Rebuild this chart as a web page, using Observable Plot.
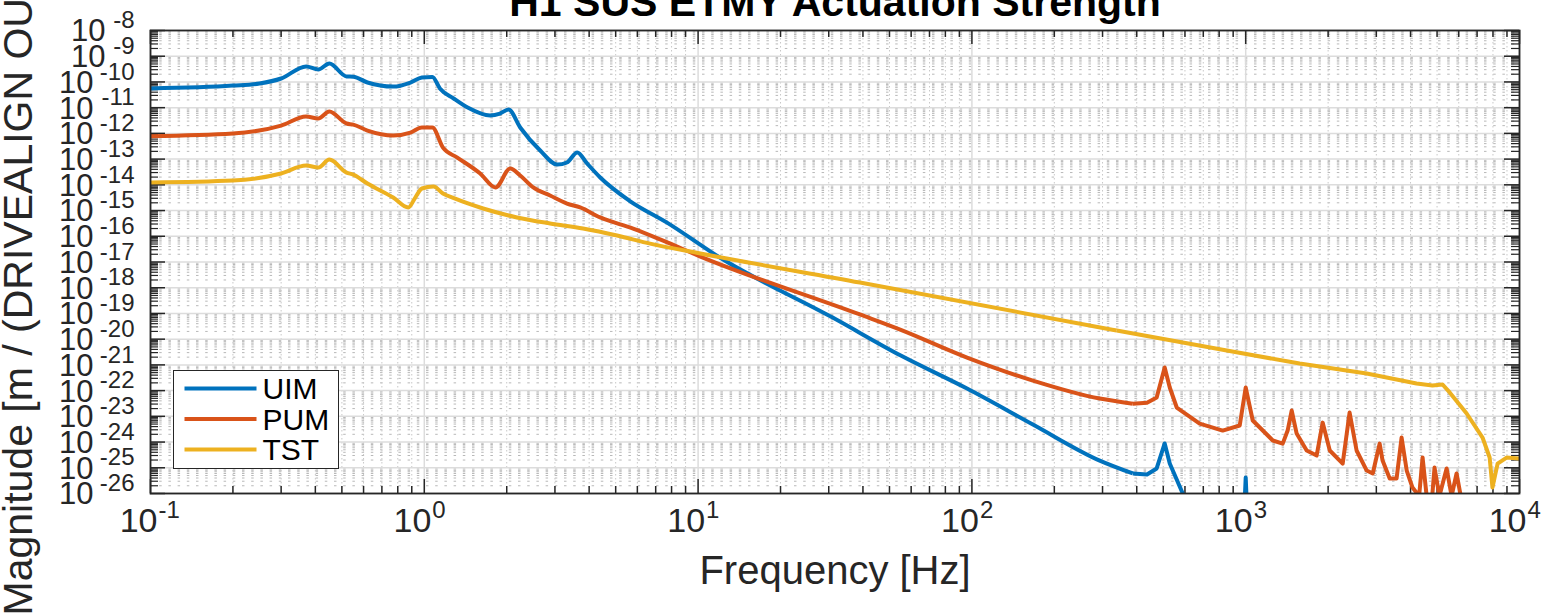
<!DOCTYPE html>
<html><head><meta charset="utf-8">
<script src="https://cdn.jsdelivr.net/npm/d3@7"></script>
<script src="https://cdn.jsdelivr.net/npm/@observablehq/plot@0.6"></script>
<style>
html,body{margin:0;padding:0;background:#fff;}
#chart{position:relative;width:1547px;height:614px;overflow:hidden;font-family:"Liberation Sans",Arial,Helvetica,sans-serif;}
#legend{position:absolute;left:173px;top:370px;width:166px;height:99px;box-sizing:border-box;border:1.5px solid #262626;background:#fff;}
#legend svg{display:block;}
</style></head><body><div id="chart"></div>
<script>
const seriesNames = ["UIM", "PUM", "TST"];
const seriesColors = ["#0072BD", "#D95319", "#EDB120"];

const uimFreq = [0.1, 0.2, 0.25, 0.3, 0.37, 0.41, 0.45, 0.52, 0.55, 0.62, 0.77, 0.89, 0.98, 1.07, 1.14, 1.28, 1.44, 1.74, 1.89, 2.03, 2.24, 2.65, 3.06, 3.32, 3.62, 3.93, 4.39, 5.6, 7.7, 12, 31, 55, 96, 167, 293, 387, 436, 473, 506, 528, 589, 650, 985, 1000, 1015, 2000];
const uimMag = [5.6e-11, 7.2e-11, 8.7e-11, 1.36e-10, 4.0e-10, 3.05e-10, 5.2e-10, 1.63e-10, 1.6e-10, 9.5e-11, 6.6e-11, 9.5e-11, 1.49e-10, 1.57e-10, 5.6e-11, 2.27e-11, 1.01e-11, 4.96e-12, 5.9e-12, 8.5e-12, 1.7e-12, 2.16e-13, 6.16e-14, 7.4e-14, 1.82e-13, 6.8e-14, 1.93e-14, 2.45e-15, 3.4e-16, 1.49e-17, 6.9e-20, 2.3e-21, 1.2e-22, 4.8e-24, 1.9e-25, 6.0e-26, 5.5e-26, 9.4e-26, 8.8e-25, 1.46e-25, 1e-26, 3e-27, 1e-27, 4.2e-26, 1e-27, 1e-29];

const pumFreq = [0.1, 0.2, 0.3, 0.37, 0.41, 0.45, 0.52, 0.55, 0.62, 0.77, 0.89, 0.98, 1.07, 1.17, 1.32, 1.6, 1.82, 2.06, 2.24, 2.5, 2.88, 3.32, 3.71, 4.39, 5.79, 7.45, 10.2, 39, 55, 96, 167, 293, 387, 436, 473, 506, 528, 560, 679, 824, 951, 1000, 1061, 1256, 1365, 1423, 1472, 1535, 1670, 1816, 1910, 2028, 2261, 2396, 2541, 2767, 2911, 3084, 3162, 3357, 3557, 3710, 3873, 4066, 4300, 4426, 4580, 4800, 4893, 5100, 5417, 5650, 5890, 6150, 10000];
const pumMag = [7.8e-13, 9.9e-13, 2.0e-12, 4.5e-12, 3.8e-12, 7.1e-12, 2.42e-12, 2.2e-12, 1.29e-12, 8.3e-13, 1.08e-12, 1.7e-12, 1.7e-12, 2.8e-13, 1.15e-13, 2.75e-14, 7.9e-15, 4.3e-14, 2.3e-14, 7.9e-15, 3.85e-15, 1.88e-15, 1.32e-15, 5.4e-16, 2.0e-16, 6.8e-17, 1.63e-17, 9.1e-20, 2.3e-20, 1.93e-21, 2.46e-22, 4.9e-23, 3.1e-23, 3.4e-23, 5.4e-23, 7.9e-22, 1.32e-22, 2.2e-23, 5.2e-24, 2.8e-24, 4.4e-24, 1.32e-22, 6.9e-24, 1.15e-24, 8.7e-25, 2.8e-24, 1.68e-23, 2.14e-24, 4.7e-25, 3.0e-25, 5.7e-24, 4.7e-25, 1.46e-25, 1.4e-23, 4.7e-25, 7.8e-26, 6.0e-26, 8.7e-25, 1.9e-25, 3.8e-26, 3.8e-26, 1.5e-24, 7.8e-26, 1.7e-26, 8e-27, 2.5e-25, 8e-27, 8e-27, 1.02e-25, 8e-27, 9.4e-26, 8e-27, 6.0e-26, 5e-27, 1e-28];

const tstFreq = [0.1, 0.2, 0.3, 0.37, 0.41, 0.45, 0.52, 0.55, 0.62, 0.77, 0.874, 0.927, 0.98, 1.08, 1.17, 1.29, 1.64, 2.18, 2.88, 3.8, 5.06, 6.68, 10.2, 39, 338, 853, 1574, 2767, 4207, 4808, 5236, 5559, 6412, 7328, 7780, 7965, 8318, 8974, 10000];
const tstMag = [1.23e-14, 1.47e-14, 2.75e-14, 5.6e-14, 4.7e-14, 9.6e-14, 3.0e-14, 2.5e-14, 1.12e-14, 3.2e-15, 1.32e-15, 3.2e-15, 7.2e-15, 8.6e-15, 4.6e-15, 2.95e-15, 1.2e-15, 5.4e-16, 3.15e-16, 2.0e-16, 1.07e-16, 5.2e-17, 2.14e-17, 1.59e-18, 2.17e-20, 3.6e-21, 1.13e-21, 4.6e-22, 1.88e-22, 1.58e-22, 1.73e-22, 8.5e-23, 1.29e-23, 1.5e-24, 2.5e-25, 1.7e-26, 1.46e-25, 2.5e-25, 2.3e-25];

const xTickValues = [0.1, 1, 10, 100, 1000, 10000];
const xTickExponents = ["-1", "0", "1", "2", "3", "4"];
const yTickValues = [1e-26, 1e-25, 1e-24, 1e-23, 1e-22, 1e-21, 1e-20, 1e-19, 1e-18, 1e-17, 1e-16, 1e-15, 1e-14, 1e-13, 1e-12, 1e-11, 1e-10, 1e-9, 1e-8];
const yTickExponents = ["-26", "-25", "-24", "-23", "-22", "-21", "-20", "-19", "-18", "-17", "-16", "-15", "-14", "-13", "-12", "-11", "-10", "-9", "-8"];

const titleText = "H1 SUS ETMY Actuation Strength";
const xLabelText = "Frequency [Hz]";
const yLabelText = "Magnitude [m / (DRIVEALIGN OUTPUT ct)]";

// ---- build tables ----
const rows = (fs, ms) => fs.map((f, i) => ({f, m: ms[i]}));
const series = [rows(uimFreq, uimMag), rows(pumFreq, pumMag), rows(tstFreq, tstMag)];
// smooth part (below the sharp high-frequency resonances) and sharp part
const splitFreq = 300;
const smoothPart = s => { const k = s.findIndex(d => d.f >= splitFreq); return s.slice(0, k + 1); };
const sharpPart = s => { const k = s.findIndex(d => d.f >= splitFreq); return s.slice(k); };

const minorOf = (majors) => majors.slice(0, -1).flatMap(v => [2,3,4,5,6,7,8,9].map(k => k * v));
const xMinor = minorOf(xTickValues);
const yMinor = minorOf(yTickValues);
const yTickRows = yTickValues.map((v, i) => ({v, e: yTickExponents[i]}));
const yShort = yTickRows.filter(d => d.e.length <= 2);
const yLong = yTickRows.filter(d => d.e.length > 2);
const xTickRows = xTickValues.map((v, i) => ({v, e: xTickExponents[i]}));

const W = 1547, H = 614, mL = 150, mR = 28, mT = 30, mB = 121;
const innerW = W - mL - mR, innerH = H - mT - mB;
const axisColor = "#262626";
const font = '"Liberation Sans", Arial, Helvetica, sans-serif';
const lw = 4;

const plot = Plot.plot({
  width: W, height: H,
  marginLeft: mL, marginRight: mR, marginTop: mT, marginBottom: mB,
  style: {fontFamily: font, background: "#fff", color: axisColor, overflow: "visible"},
  x: {type: "log", domain: [0.1, 1e4], axis: null},
  y: {type: "log", domain: [1e-26, 1e-8], axis: null},
  marks: [
    // grids
    Plot.ruleY(yMinor, {y: d => d, stroke: "#b8b8b8", strokeWidth: 1, strokeDasharray: "2.5,6.7"}),
    Plot.ruleX(xMinor, {x: d => d, stroke: "#c8c8c8", strokeWidth: 1, strokeDasharray: "1.5,2.5"}),
    Plot.ruleX(xTickValues, {x: d => d, stroke: "#dcdcdc", strokeWidth: 1.5}),
    Plot.ruleY(yTickValues, {y: d => d, stroke: "#dcdcdc", strokeWidth: 1.5}),
    // ticks (inward, all sides)
    Plot.tickX(xTickValues, {x: d => d, insetTop: innerH - 14, stroke: axisColor, strokeWidth: 1.5}),
    Plot.tickX(xTickValues, {x: d => d, insetBottom: innerH - 14, stroke: axisColor, strokeWidth: 1.5}),
    Plot.tickX(xMinor, {x: d => d, insetTop: innerH - 7, stroke: axisColor, strokeWidth: 1.5}),
    Plot.tickX(xMinor, {x: d => d, insetBottom: innerH - 7, stroke: axisColor, strokeWidth: 1.5}),
    Plot.tickY(yTickValues, {y: d => d, insetRight: innerW - 15, stroke: axisColor, strokeWidth: 1.5}),
    Plot.tickY(yTickValues, {y: d => d, insetLeft: innerW - 15, stroke: axisColor, strokeWidth: 1.5}),
    Plot.tickY(yMinor, {y: d => d, insetRight: innerW - 8, stroke: axisColor, strokeWidth: 1.2}),
    Plot.tickY(yMinor, {y: d => d, insetLeft: innerW - 8, stroke: axisColor, strokeWidth: 1.2}),
    // data
    ...series.flatMap((s, i) => [
      Plot.line(smoothPart(s), {x: "f", y: "m", stroke: seriesColors[i], strokeWidth: lw, curve: "monotone-x", strokeLinecap: "butt", clip: true}),
      Plot.line(sharpPart(s), {x: "f", y: "m", stroke: seriesColors[i], strokeWidth: lw, strokeLinecap: "butt", clip: true})
    ]),
    Plot.frame({stroke: axisColor, strokeWidth: 1.8}),
    // x tick labels
    Plot.text(xTickRows, {x: "v", frameAnchor: "bottom", text: () => "10", textAnchor: "end", dx: 7, dy: 38, fontSize: 34, fill: axisColor}),
    Plot.text(xTickRows, {x: "v", frameAnchor: "bottom", text: "e", textAnchor: "start", dx: 8, dy: 24, fontSize: 24, fill: axisColor}),
    // y tick labels
    Plot.text(yShort, {y: "v", frameAnchor: "left", text: () => "10", textAnchor: "end", dx: -45, dy: 1, fontSize: 31, fill: axisColor}),
    Plot.text(yLong, {y: "v", frameAnchor: "left", text: () => "10", textAnchor: "end", dx: -57, dy: 1, fontSize: 31, fill: axisColor}),
    Plot.text(yTickRows, {y: "v", frameAnchor: "left", text: "e", textAnchor: "end", dx: -16, dy: -10, fontSize: 24, fill: axisColor}),
    // title and axis labels
    Plot.text([titleText], {frameAnchor: "top", lineAnchor: "bottom", dy: -15, fontSize: 41, fontWeight: "bold", fill: "#000"}),
    Plot.text([xLabelText], {frameAnchor: "bottom", lineAnchor: "bottom", dy: 90, fontSize: 40, fill: axisColor}),
    Plot.text([yLabelText], {frameAnchor: "bottom-left", rotate: -90, textAnchor: "start", dx: -119, dy: 122, fontSize: 41, fill: axisColor})
  ]
});

const chart = document.getElementById("chart");
chart.appendChild(plot);

// legend box
const legend = document.createElement("div");
legend.id = "legend";
const ns = "http://www.w3.org/2000/svg";
const lsvg = document.createElementNS(ns, "svg");
lsvg.setAttribute("width", 163);
lsvg.setAttribute("height", 96);
seriesNames.forEach((name, i) => {
  const yy = 17.5 + i * 30.5;
  const ln = document.createElementNS(ns, "line");
  ln.setAttribute("x1", 10.5); ln.setAttribute("x2", 82.5);
  ln.setAttribute("y1", yy); ln.setAttribute("y2", yy);
  ln.setAttribute("stroke", seriesColors[i]); ln.setAttribute("stroke-width", lw);
  lsvg.appendChild(ln);
  const tx = document.createElementNS(ns, "text");
  tx.setAttribute("x", 88.5); tx.setAttribute("y", yy + 10.5);
  tx.setAttribute("font-size", 30); tx.setAttribute("font-family", font);
  tx.setAttribute("fill", "#000");
  tx.textContent = name;
  lsvg.appendChild(tx);
});
legend.appendChild(lsvg);
chart.appendChild(legend);
</script></body></html>
